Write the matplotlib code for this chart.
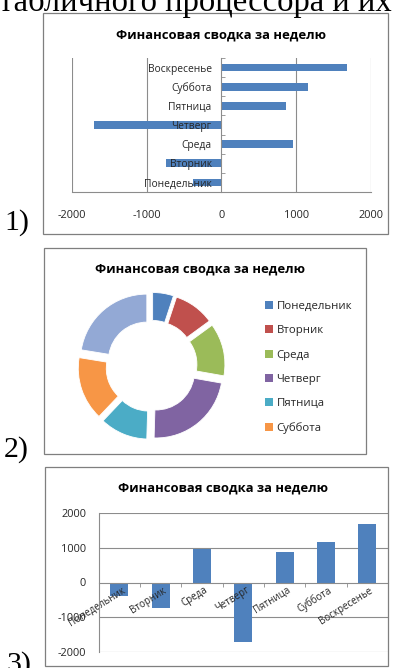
import matplotlib
matplotlib.use("Agg")
import matplotlib.pyplot as plt
from matplotlib.patches import Rectangle, Patch
from matplotlib.ticker import FixedLocator
from matplotlib.transforms import ScaledTranslation

# ---- data ----
days = ["Понедельник", "Вторник", "Среда", "Четверг", "Пятница", "Суббота", "Воскресенье"]
values = [-380, -740, 960, -1700, 870, 1160, 1680]
x_ticks_1 = [-2000, -1000, 0, 1000, 2000]
y_ticks_3 = [-2000, -1000, 0, 1000, 2000]
title = "Финансовая сводка за неделю"
slice_colors = ["#4F81BD", "#C0504D", "#9BBB59", "#8064A2", "#4BACC6", "#F79646", "#93A9D5"]
bar_color = "#4F81BD"

W, H = 396, 668
plt.rcParams["font.family"] = ["Open Sans", "DejaVu Sans"]
fig = plt.figure(figsize=(W / 100, H / 100), dpi=100)
fig.patch.set_facecolor("white")

TXT = "#262626"
GRID = "#8C8C8C"
serif = ["Liberation Serif", "DejaVu Serif"]
TITLE_SIZE = 9.4
LABEL_SIZE = 7.4
NUM_SIZE = 7.9


def px_rect(x0, y0, x1, y1):
    """Axes rectangle in figure fractions from pixel corners (top-left origin)."""
    return [x0 / W, 1 - y1 / H, (x1 - x0) / W, (y1 - y0) / H]


def panel(x0, y0, x1, y1):
    fig.add_artist(Rectangle((x0 / W, 1 - y1 / H), (x1 - x0) / W, (y1 - y0) / H,
                             transform=fig.transFigure, fill=False,
                             edgecolor="#7F7F7F", linewidth=0.9))


# running text and item numbers
fig.text(-1 / W, 1 - 11 / H, "табличного процессора и их", family=serif,
         fontsize=23.5, va="baseline", ha="left", color="black")
fig.text(4 / W, 1 - 230 / H, "1)", family=serif, fontsize=21.5, va="baseline", color="black")
fig.text(4 / W, 1 - 457 / H, "2)", family=serif, fontsize=21.5, va="baseline", color="black")
fig.text(6 / W, 1 - 672 / H, "3)", family=serif, fontsize=21.5, va="baseline", color="black")

# ---------------- 1) horizontal bars ----------------
panel(43, 13, 388, 234)
fig.text(221 / W, 1 - 35 / H, title, ha="center", va="center",
         fontsize=TITLE_SIZE, fontweight="bold", color="black")
ax1 = fig.add_axes(px_rect(71.7, 58, 371, 192))
ypos = list(range(len(days)))
ax1.barh(ypos, values, height=0.4, color=bar_color, zorder=1)
ax1.set_xlim(-2000, 2000)
ax1.set_ylim(-0.5, len(days) - 0.5)
for v in x_ticks_1:
    if v != 0:
        ax1.axvline(v, color=GRID, linewidth=0.8, zorder=0.5)
for s in ["top", "right"]:
    ax1.spines[s].set_visible(False)
ax1.spines["left"].set_position(("data", 0))
ax1.spines["left"].set_color(GRID)
ax1.spines["left"].set_linewidth(0.8)
ax1.spines["bottom"].set_color(GRID)
ax1.spines["bottom"].set_linewidth(0.8)
ax1.set_xticks(x_ticks_1)
ax1.set_xticklabels([str(v) for v in x_ticks_1])
ax1.tick_params(axis="x", length=0, pad=13, labelsize=NUM_SIZE, labelcolor=TXT)
ax1.set_yticks(ypos)
ax1.set_yticklabels(days)
ax1.tick_params(axis="y", length=0, pad=7, labelsize=LABEL_SIZE, labelcolor=TXT)
ax1.yaxis.set_minor_locator(FixedLocator([i + 0.5 for i in range(-1, len(days))]))
ax1.tick_params(axis="y", which="minor", direction="in", length=3, color=GRID)
ax1.set_facecolor("none")

# ---------------- 2) exploded doughnut ----------------
panel(44, 248, 366, 454)
fig.text(200 / W, 1 - 269 / H, title, ha="center", va="center",
         fontsize=TITLE_SIZE, fontweight="bold", color="black")
ax2 = fig.add_axes(px_rect(71.5, 286, 231.5, 446))
abs_vals = [abs(v) for v in values]
wedges, _ = ax2.pie(abs_vals, colors=slice_colors, startangle=90, counterclock=False,
                    radius=0.83, explode=[0.09] * len(days),
                    wedgeprops=dict(width=0.35, edgecolor="white", linewidth=0.6))
ax2.set_xlim(-1, 1)
ax2.set_ylim(-1, 1)
ax2.set_aspect("equal")
ax2.axis("off")
handles = [Patch(facecolor=c) for c in slice_colors[:6]]
leg = fig.legend(handles, days[:6], loc="upper left",
                 bbox_to_anchor=(265 / W, 1 - 301 / H), bbox_transform=fig.transFigure,
                 frameon=False, fontsize=8.2, labelspacing=1.17, handlelength=0.7,
                 handleheight=0.7, handletextpad=0.3, borderpad=0, borderaxespad=0)
for t in leg.get_texts():
    t.set_color(TXT)

# ---------------- 3) vertical columns ----------------
panel(45, 467, 388, 666)
fig.text(223 / W, 1 - 488 / H, title, ha="center", va="center",
         fontsize=TITLE_SIZE, fontweight="bold", color="black")
ax3 = fig.add_axes(px_rect(98.6, 513, 388, 652))
ax3.bar(ypos, values, width=0.44, color=bar_color, zorder=1)
ax3.set_xlim(-0.5, len(days) - 0.5)
ax3.set_ylim(-2000, 2000)
for v in y_ticks_3:
    if v != 0:
        ax3.axhline(v, color=GRID, linewidth=0.8, zorder=0.5)
for s in ["top", "right"]:
    ax3.spines[s].set_visible(False)
ax3.spines["bottom"].set_position(("data", 0))
ax3.spines["bottom"].set_color(GRID)
ax3.spines["bottom"].set_linewidth(0.8)
ax3.spines["left"].set_color(GRID)
ax3.spines["left"].set_linewidth(0.8)
ax3.set_yticks(y_ticks_3)
ax3.set_yticklabels([str(v) for v in y_ticks_3])
ax3.tick_params(axis="y", length=0, pad=9, labelsize=NUM_SIZE, labelcolor=TXT)
ax3.set_xticks(ypos)
ax3.set_xticklabels(days, rotation=32, ha="right", va="center", rotation_mode="anchor")
ax3.tick_params(axis="x", length=0, pad=5, labelsize=7.0, labelcolor=TXT)
ax3.xaxis.set_minor_locator(FixedLocator([i + 0.5 for i in range(-1, len(days))]))
ax3.tick_params(axis="x", which="minor", direction="out", length=3, color=GRID)
shift = ScaledTranslation(0.05, 0, fig.dpi_scale_trans)
for lbl in ax3.get_xticklabels():
    lbl.set_transform(lbl.get_transform() + shift)
    lbl.set_zorder(3)
ax3.set_facecolor("none")

fig.savefig("out.png", dpi=100, facecolor="white")
